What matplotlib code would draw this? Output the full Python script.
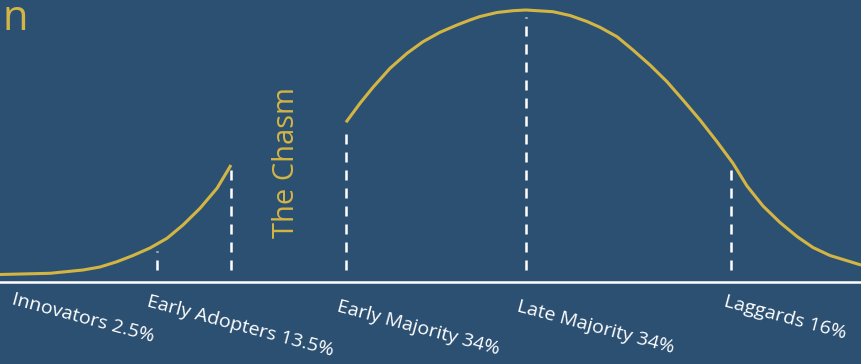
import matplotlib
matplotlib.use("Agg")
import matplotlib.pyplot as plt

plt.rcParams["font.family"] = ["Open Sans", "DejaVu Sans"]

BG = "#2c5072"
YELLOW = "#d3b543"
WHITE = "#ffffff"

# 曲线（左段：创新者+早期采用者；右段：早期大众到落后者），高度读自原图
left_x = [0, 50, 83, 100, 117, 133, 150, 167, 183, 200, 217, 231]
left_h = [6.5, 7.7, 11, 14, 19.3, 25.5, 33, 42.7, 56, 72.7, 92.7, 116]
right_x = [346, 360, 373, 390, 407, 423, 440, 457, 470, 480, 497, 513, 526,
           553, 570, 587, 600, 617, 633, 650, 667, 683, 700, 717, 733,
           747, 763, 780, 797, 813, 830, 847, 861]
right_h = [158.7, 177.7, 193.7, 212.7, 227.7, 239.3, 248.7, 256, 261, 264.5,
           268.5, 270.3, 271,
           269.3, 265.5, 259.5, 253.7, 244.3, 231, 216, 199.3, 181, 161,
           139.3, 117.7,
           95, 75, 58.5, 44.5, 33.5, 25.5, 20.3, 16]

# 分界虚线
split_x = [157, 231, 346, 526, 731]
split_top = [30, 111, 152, 264, 112]

labels = ["Innovators 2.5%", "Early Adopters 13.5%", "Early Majority 34%",
          "Late Majority 34%", "Laggards 16%"]
label_x = [15, 150, 340, 520, 727]
label_y = [-9, -12, -17, -17, -12]

fig = plt.figure(figsize=(8.61, 3.64), dpi=100)
fig.patch.set_facecolor(BG)
ax = fig.add_axes([0, 0, 1, 1])
ax.set_facecolor(BG)
ax.set_xlim(0, 861)
ax.set_ylim(-83, 281)
ax.axis("off")

ax.plot(left_x, left_h, color=YELLOW, lw=2.2, solid_capstyle="butt",
        solid_joinstyle="round")
ax.plot(right_x, right_h, color=YELLOW, lw=2.2, solid_capstyle="butt",
        solid_joinstyle="round")

for x, top in zip(split_x, split_top):
    ax.plot([x, x], [11, top], color=WHITE, lw=1.8, dashes=(4, 3.2))

ax.axhline(-1, color=WHITE, lw=1.8)

for txt, x, y in zip(labels, label_x, label_y):
    ax.text(x, y, txt, color=WHITE, fontsize=14, rotation=-15,
            rotation_mode="anchor", ha="left", va="top")

ax.text(287, 119, "The Chasm", color=YELLOW, fontsize=21, rotation=90,
        ha="center", va="center")

ax.text(2, 251, "n", color=YELLOW, fontsize=30, ha="left", va="baseline")

fig.savefig("out.png", dpi=100, facecolor=BG)
